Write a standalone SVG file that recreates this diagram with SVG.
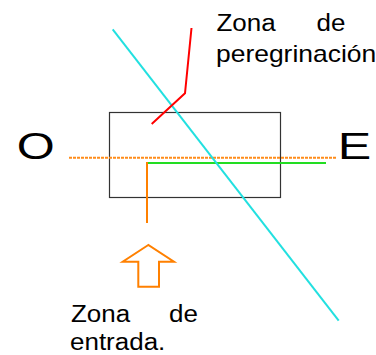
<svg xmlns="http://www.w3.org/2000/svg" width="376" height="355" viewBox="0 0 376 355">
<style>
  .t { font-family: "Liberation Sans", Arial, sans-serif; fill: #000; }
  .s { font-size: 23px; }
  .b { font-size: 37px; }
  .ln { fill: none; stroke-width: 2; stroke-linecap: butt; stroke-linejoin: miter; }
</style>
<rect width="376" height="355" fill="#ffffff"/>
<g id="zona-caja">
  <rect x="109.5" y="112.5" width="171" height="85" fill="none" stroke="#333333" stroke-width="1.2"/>
</g>
<g id="connectors">
  <line class="ln" x1="69" y1="157.7" x2="336" y2="157.7" stroke="#FF8C1A" stroke-dasharray="3 1"/>
  <line class="ln" x1="146" y1="163" x2="326" y2="163" stroke="#22DD22"/>
  <line class="ln" x1="147" y1="162" x2="147" y2="223" stroke="#FF8000"/>
  <line class="ln" x1="112.7" y1="29.3" x2="338.7" y2="320.7" stroke="#22E0E0"/>
  <polyline class="ln" points="191.5,28 185,93.3 151.7,124" stroke="#FF0000"/>
</g>
<g id="flecha-entrada">
  <polygon class="ln" points="148.3,245 122.7,261.7 138.3,261.7 138.3,286.7 159,286.7 159,261.7 174,261.7" stroke="#FF8000"/>
</g>
<g id="label-O">
  <text class="t b" transform="translate(16.7,159) scale(1.32,1)">O</text>
</g>
<g id="label-E">
  <text class="t b" transform="translate(337.7,159.3) scale(1.357,1)">E</text>
</g>
<g id="label-peregrinacion">
  <text class="t s" transform="translate(216.5,30.7) scale(1.13,1)">Zona</text>
  <text class="t s" transform="translate(316.5,30.7) scale(1.13,1)">de</text>
  <text class="t s" transform="translate(216,62) scale(1.15,1)">peregrinación</text>
</g>
<g id="label-entrada">
  <text class="t s" transform="translate(71,322) scale(1.13,1)">Zona</text>
  <text class="t s" transform="translate(169,322) scale(1.13,1)">de</text>
  <text class="t s" transform="translate(70,350) scale(1.13,1)">entrada.</text>
</g>
</svg>
